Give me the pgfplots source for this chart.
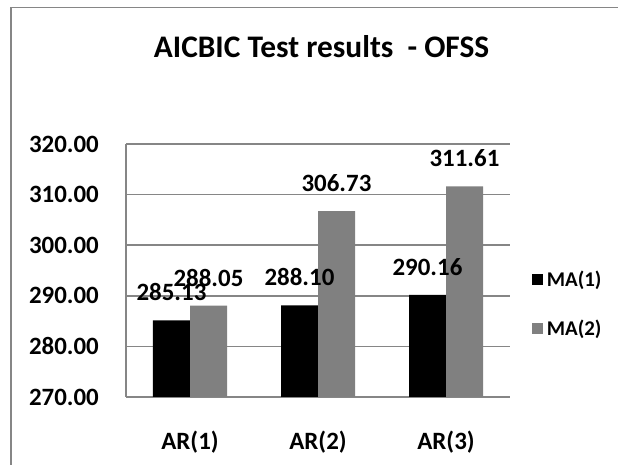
\documentclass[border=0pt]{standalone}
\usepackage{pgfplots}
\pgfplotsset{compat=1.18}
\usepackage{fontspec}
\setmainfont{Carlito}
\definecolor{gridgray}{RGB}{134,134,134}
\definecolor{bargray}{RGB}{128,128,128}
\begin{document}
\begin{tikzpicture}
\useasboundingbox (0,0) rectangle (618bp,465bp);
\draw[gridgray, line width=1.5bp] (11bp,0) -- (11bp,457.5bp) -- (618bp,457.5bp);
\node[anchor=base, font=\bfseries\fontsize{31.5}{36}\selectfont, inner sep=0pt] at (321.5bp,407bp) {AICBIC Test results\ \ - OFSS};
\begin{axis}[
  at={(126bp,68bp)}, anchor=south west,
  scale only axis, width=384bp, height=253bp,
  xmin=-0.5, xmax=2.5, ymin=270, ymax=320,
  xtick={0,1,2}, xticklabels={AR(1),AR(2),AR(3)},
  ytick={270,280,290,300,310,320},
  yticklabels={270.00,280.00,290.00,300.00,310.00,320.00},
  axis x line*=bottom, axis y line*=left,
  axis line style={gridgray, line width=1.5bp, -},
  ymajorgrids, grid style={gridgray, line width=1.5bp},
  major tick length=0pt,
  ybar=0pt, bar width=37bp,
  yticklabel style={font=\bfseries\fontsize{25}{30}\selectfont, anchor=east, inner sep=0pt, xshift=-27bp},
  xticklabel style={font=\bfseries\fontsize{25}{30}\selectfont, anchor=base, inner sep=0pt, yshift=-52.5bp},
  nodes near coords={\pgfmathprintnumber[fixed,fixed zerofill,precision=2,assume math mode=true]{\pgfplotspointmeta}},
  nodes near coords style={font=\bfseries\fontsize{25}{30}\selectfont, anchor=base, inner sep=0pt, yshift=19.5bp},
  legend image code/.code={\fill[#1] (0bp,-5.5bp) rectangle (11bp,5.5bp);},
  legend cell align=left,
  legend style={at={(1.0565,0.5)}, anchor=north west, draw=none, fill=none, inner sep=0pt,
    font=\bfseries\fontsize{21}{25}\selectfont, row sep=32bp, column sep=4bp,
    nodes={inner sep=0pt, font=\bfseries\fontsize{21}{25}\selectfont}},
]
\addplot[fill=black, draw=none] coordinates {(0,285.13) (1,288.10) (2,290.16)};
\addplot[fill=bargray, draw=none] coordinates {(0,288.05) (1,306.73) (2,311.61)};
\legend{\textbf{MA(1)},\textbf{MA(2)}}
\end{axis}
\end{tikzpicture}
\end{document}
